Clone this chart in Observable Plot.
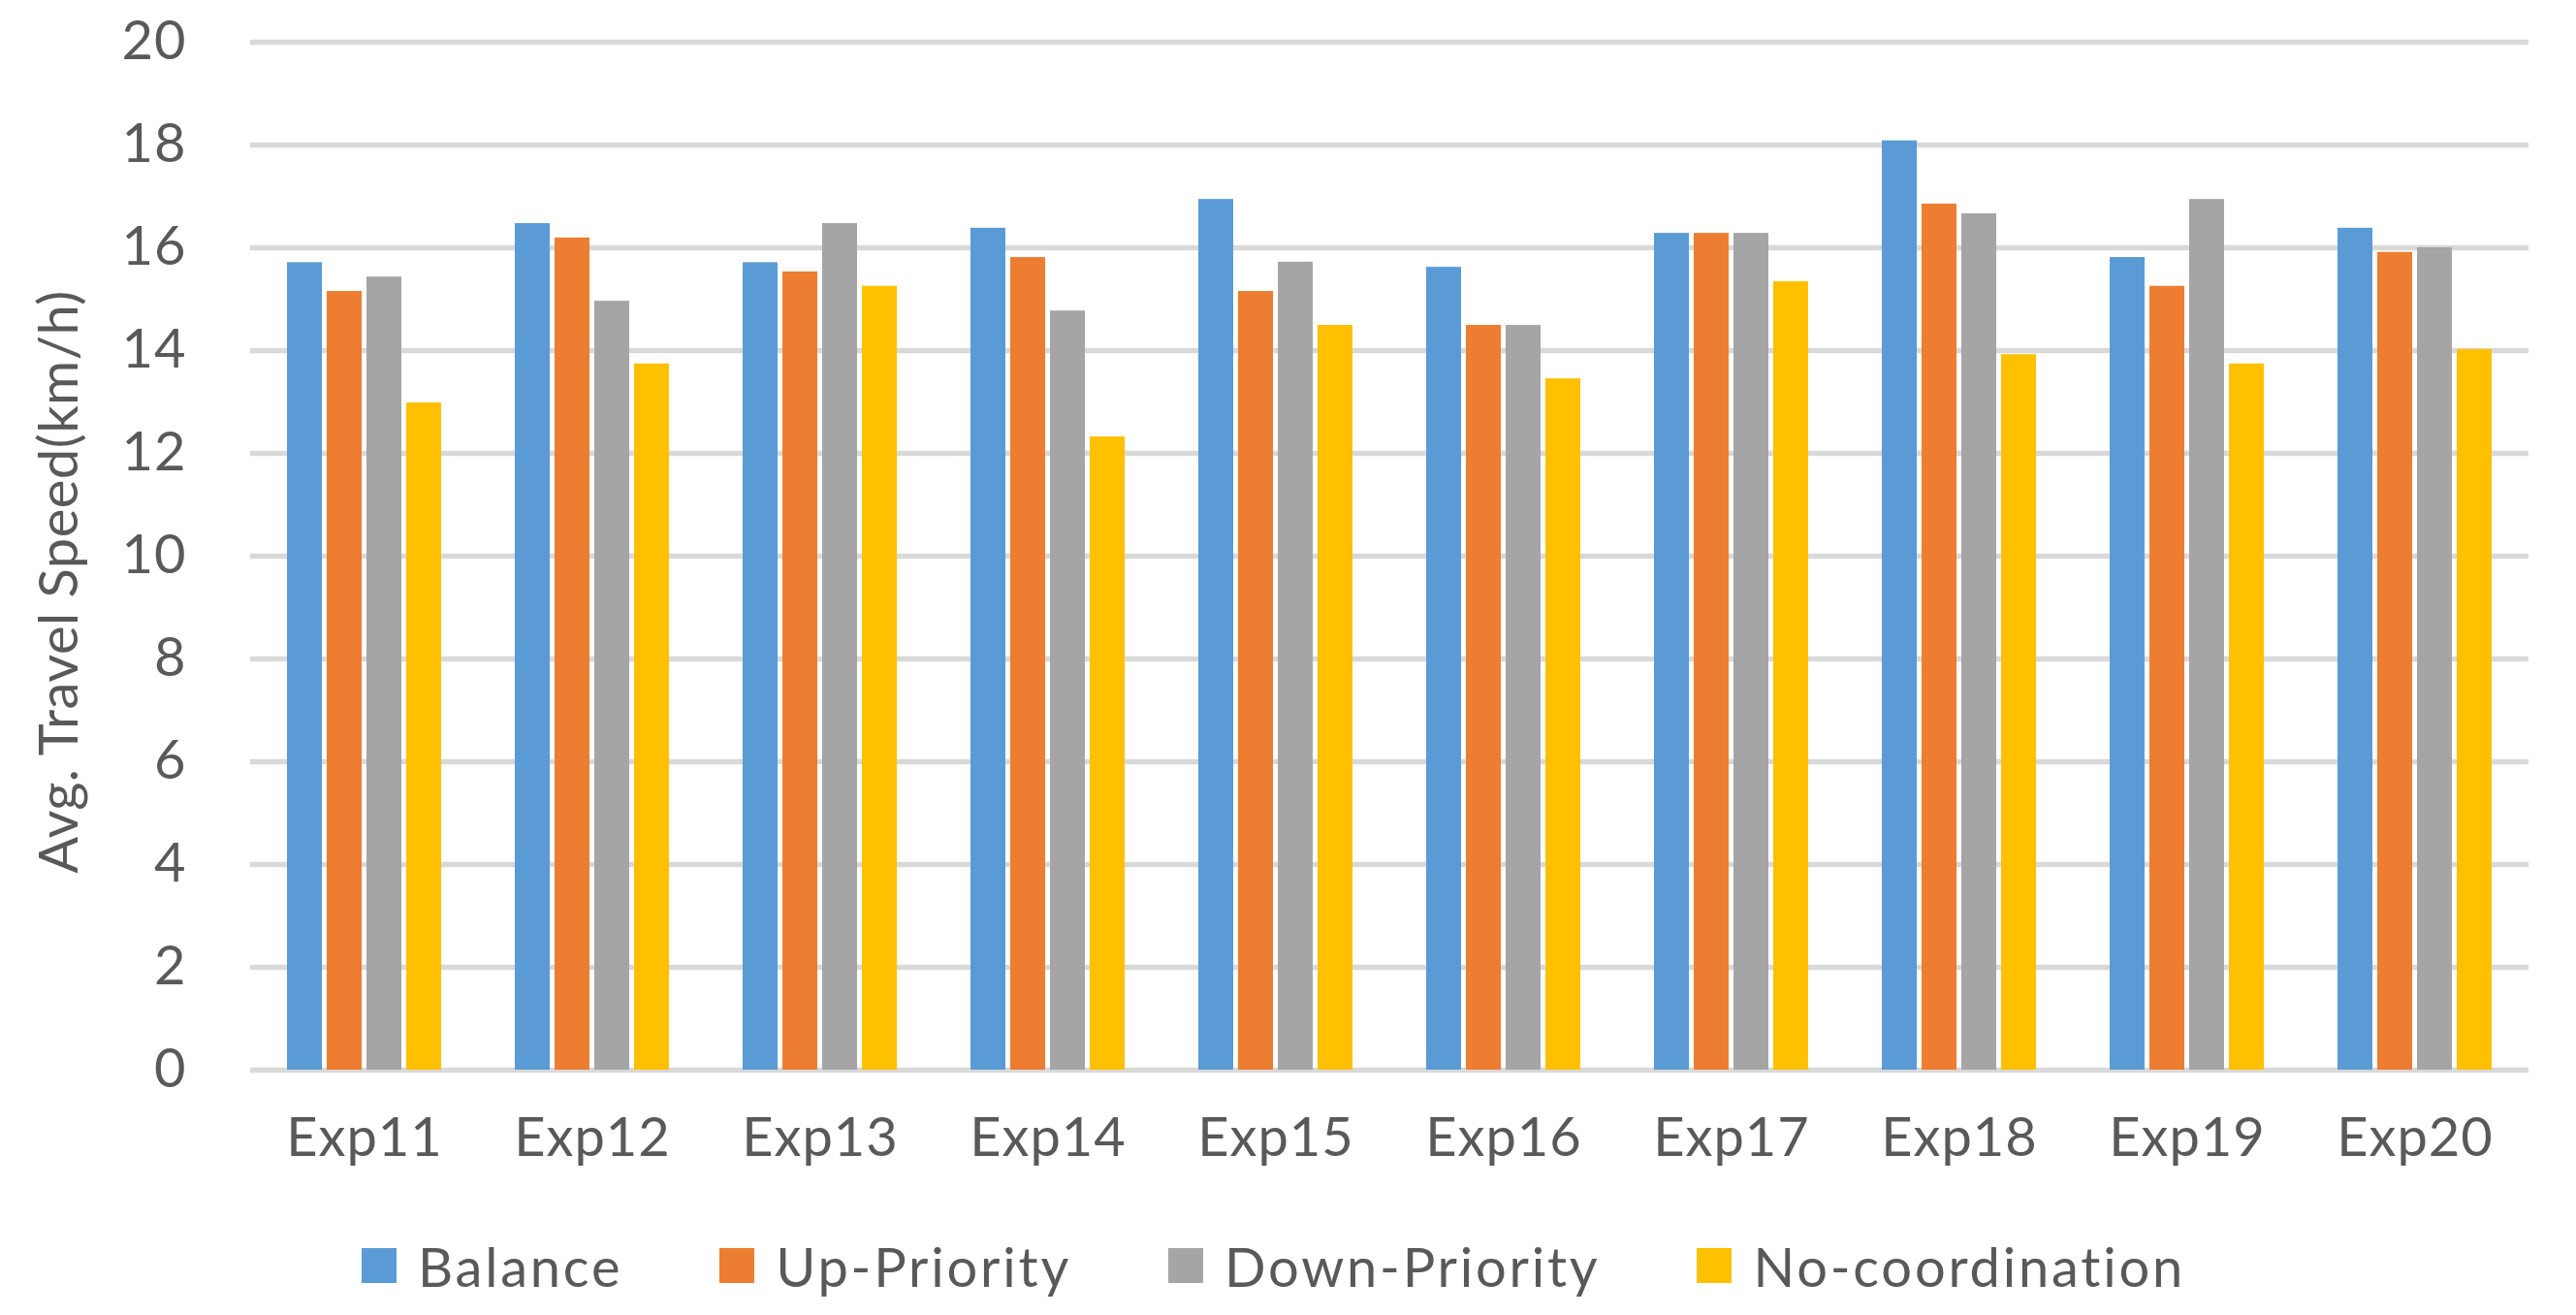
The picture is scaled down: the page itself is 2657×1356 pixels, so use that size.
<!DOCTYPE html>
<html>
<head>
<meta charset="utf-8">
<script src="https://cdn.jsdelivr.net/npm/d3@7"></script>
<script src="https://cdn.jsdelivr.net/npm/@observablehq/plot@0.6"></script>
<style>
  html, body { margin: 0; padding: 0; background: #fff; }
  #wrap { position: relative; width: 2657px; height: 1356px; font-family: Lato, "Open Sans", sans-serif; color: #595959; }
  #ytitle { position: absolute; left: 58px; top: 600px; width: 0; height: 0; }
  #ytitle span { position: absolute; left: 0; top: 0; transform: translate(-50%, -50%) rotate(-90deg); white-space: nowrap; font-size: 56px; letter-spacing: 0.5px; }
  #legend { display: flex; justify-content: center; align-items: center; height: 86px; padding-right: 30px; font-size: 56px; letter-spacing: 2.8px; }
  .item { display: flex; align-items: center; margin: 0 50px; }
  .sw { width: 36px; height: 36px; margin-right: 22px; }
  #chart svg text { letter-spacing: 1px; }
</style>
</head>
<body>
<div id="wrap">
  <div id="chart"></div>
  <div id="ytitle"><span>Avg. Travel Speed(km/h)</span></div>
  <div id="legend"></div>
</div>
<script>
const experiments = ["Exp11","Exp12","Exp13","Exp14","Exp15","Exp16","Exp17","Exp18","Exp19","Exp20"];
const series = ["Balance","Up-Priority","Down-Priority","No-coordination"];
const balance        = [15.71, 16.47, 15.71, 16.38, 16.94, 15.62, 16.28, 18.08, 15.81, 16.38];
const upPriority     = [15.15, 16.19, 15.53, 15.81, 15.15, 14.49, 16.28, 16.85, 15.25, 15.91];
const downPriority   = [15.43, 14.96, 16.47, 14.77, 15.72, 14.49, 16.28, 16.66, 16.94, 16.00];
const noCoordination = [12.98, 13.74, 15.25, 12.32, 14.49, 13.45, 15.34, 13.92, 13.74, 14.02];
const yTicks = [0, 2, 4, 6, 8, 10, 12, 14, 16, 18, 20];
const colors = ["#5B9BD5", "#ED7D31", "#A5A5A5", "#FFC000"];

const seriesValues = [balance, upPriority, downPriority, noCoordination];
const rows = [];
experiments.forEach((exp, i) => {
  series.forEach((s, j) => rows.push({exp, series: s, value: seriesValues[j][i]}));
});

const chart = Plot.plot({
  width: 2657,
  height: 1262,
  marginLeft: 253,
  marginRight: 45,
  marginTop: 43,
  marginBottom: 159,
  style: {fontFamily: "Lato, 'Open Sans', sans-serif", fontSize: "56px", color: "#595959", background: "white"},
  fx: {domain: experiments, padding: 0, label: null, tickSize: 0, tickPadding: 49},
  x: {domain: series, paddingInner: 0.119, paddingOuter: 0.869, axis: null},
  y: {domain: [0, 20], ticks: yTicks, tickSize: 0, tickPadding: 66, label: null},
  color: {domain: series, range: colors},
  marks: [
    Plot.ruleY(yTicks, {stroke: "#d9d9d9", strokeWidth: 5.5}),
    Plot.barY(rows, {fx: "exp", x: "series", y: "value", fill: "series"})
  ]
});
document.getElementById("chart").appendChild(chart);

const legend = document.getElementById("legend");
series.forEach((s, j) => {
  const item = document.createElement("div");
  item.className = "item";
  const sw = document.createElement("div");
  sw.className = "sw";
  sw.style.background = colors[j];
  const label = document.createElement("span");
  label.textContent = s;
  item.appendChild(sw);
  item.appendChild(label);
  legend.appendChild(item);
});
</script>
</body>
</html>
